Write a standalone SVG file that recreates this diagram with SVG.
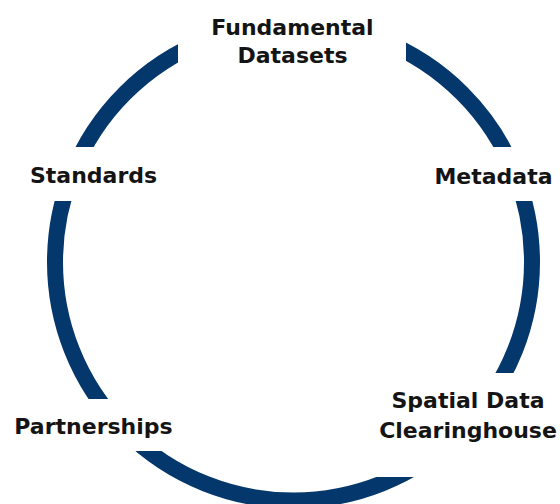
<svg xmlns="http://www.w3.org/2000/svg" width="560" height="504" viewBox="0 0 560 504">
<style>
.lbl{font-family:"DejaVu Sans","Verdana",sans-serif;font-weight:bold;font-size:22px;fill:#141414;text-anchor:middle}
.ring{fill:none;stroke:#04376b;stroke-width:16}
</style>
<defs>
<mask id="gaps" maskUnits="userSpaceOnUse" x="0" y="0" width="560" height="504">
<rect x="0" y="0" width="560" height="504" fill="#fff"/>
<rect x="178" y="0" width="228" height="90" fill="#000"/>
<rect x="0" y="147" width="150" height="54" fill="#000"/>
<rect x="420" y="147" width="140" height="54" fill="#000"/>
<rect x="0" y="399" width="200" height="52" fill="#000"/>
<rect x="360" y="373" width="200" height="104" fill="#000"/>
</mask>
</defs>
<rect width="560" height="504" fill="#fff"/>
<g id="connectors">
<circle class="ring" cx="293.5" cy="262" r="238.5" mask="url(#gaps)"/>
</g>
<g id="fundamental-datasets">
<text class="lbl" x="292.5" y="35">Fundamental</text>
<text class="lbl" x="292.5" y="63">Datasets</text>
</g>
<g id="metadata">
<text class="lbl" x="493.5" y="184">Metadata</text>
</g>
<g id="spatial-data-clearinghouse">
<text class="lbl" x="468" y="408">Spatial Data</text>
<text class="lbl" x="468" y="438">Clearinghouse</text>
</g>
<g id="partnerships">
<text class="lbl" x="93.5" y="434">Partnerships</text>
</g>
<g id="standards">
<text class="lbl" x="93.5" y="183">Standards</text>
</g>
</svg>
